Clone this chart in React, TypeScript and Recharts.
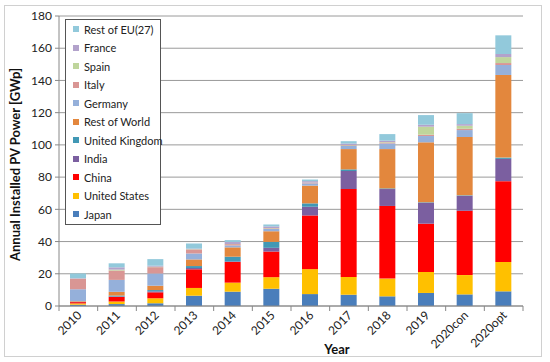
import React from 'react';
import { BarChart, Bar, XAxis, YAxis, CartesianGrid, Legend } from 'recharts';

const YEARS = ['2010', '2011', '2012', '2013', '2014', '2015', '2016', '2017', '2018', '2019', '2020con', '2020opt'];

// GWp per year (bottom to top)
const japan = [0.8, 1.2, 1.7, 6.4, 8.9, 10.7, 7.4, 7.0, 6.0, 8.1, 7.2, 9.1];
const unitedStates = [0.8, 1.6, 3.1, 4.8, 5.6, 7.2, 15.5, 11.0, 11.0, 13.0, 12.0, 18.2];
const china = [0.8, 2.9, 3.7, 11.6, 12.8, 15.9, 33.3, 54.6, 45.1, 30.0, 39.9, 50.2];
const india = [0.1, 0.2, 0.6, 0.8, 0.4, 2.3, 5.4, 11.2, 10.5, 13.0, 9.3, 13.8];
const unitedKingdom = [0.1, 0.6, 0.8, 1.2, 2.9, 3.7, 2.1, 1.0, 0.4, 0.3, 0.3, 0.8];
const restOfWorld = [0.4, 2.3, 2.7, 4.1, 5.8, 6.6, 11.0, 12.6, 24.4, 37.2, 36.2, 51.3];
const germany = [7.4, 7.4, 7.6, 3.7, 1.2, 1.4, 1.4, 1.9, 3.5, 3.9, 4.3, 6.2];
const italy = [6.6, 5.8, 3.9, 2.5, 0.8, 0.4, 0.4, 0.4, 0.6, 0.8, 0.8, 1.2];
const spain = [0.0, 0.6, 0.3, 0.2, 0.1, 0.2, 0.1, 0.2, 0.3, 5.0, 1.9, 3.7];
const france = [0.2, 1.4, 0.6, 0.3, 1.2, 1.0, 0.9, 0.9, 0.8, 1.2, 1.0, 1.9];
const restOfEU = [3.0, 2.5, 4.1, 3.2, 1.2, 1.2, 1.0, 1.5, 4.1, 6.0, 6.8, 11.6];

const SERIES = [
  { key: 'japan', name: 'Japan', values: japan, color: '#4A7EBB' },
  { key: 'us', name: 'United States', values: unitedStates, color: '#FFC000' },
  { key: 'china', name: 'China', values: china, color: '#FF0000' },
  { key: 'india', name: 'India', values: india, color: '#7B5FA0' },
  { key: 'uk', name: 'United Kingdom', values: unitedKingdom, color: '#4198B5' },
  { key: 'row', name: 'Rest of World', values: restOfWorld, color: '#E3873D' },
  { key: 'germany', name: 'Germany', values: germany, color: '#95B0DA' },
  { key: 'italy', name: 'Italy', values: italy, color: '#D99694' },
  { key: 'spain', name: 'Spain', values: spain, color: '#BFD59C' },
  { key: 'france', name: 'France', values: france, color: '#B2A2CB' },
  { key: 'roeu', name: 'Rest of EU(27)', values: restOfEU, color: '#92C9DB' },
];

const data = YEARS.map((year, i) => {
  const row: Record<string, string | number> = { year };
  SERIES.forEach((s) => {
    row[s.key] = s.values[i];
  });
  return row;
});

const FONT = 'Lato, "Liberation Sans", sans-serif';
const MARGIN = { top: 16, right: 27, bottom: 16, left: 12 };
const Y_WIDTH = 47;
const STEP = (550 - MARGIN.left - Y_WIDTH - MARGIN.right) / YEARS.length;

const YearTick = (props: any) => {
  const { x, y, payload, index } = props;
  return (
    <g>
      <line x1={x - STEP / 2} y1={y - 8} x2={x - STEP / 2} y2={y - 3} stroke="#888" />
      {index === YEARS.length - 1 && (
        <line x1={x + STEP / 2} y1={y - 8} x2={x + STEP / 2} y2={y - 3} stroke="#888" />
      )}
      <text
        x={x + 4}
        y={y + 2}
        textAnchor="end"
        transform={`rotate(-45, ${x + 4}, ${y + 2})`}
        fontSize={12}
        fontFamily={FONT}
        fill="#222"
      >
        {payload.value}
      </text>
    </g>
  );
};

const LegendBox = () => (
  <div
    style={{
      border: '1px solid #555',
      background: '#fff',
      padding: '0 0 0 7px',
      fontFamily: FONT,
      fontSize: 11,
      color: '#222',
      width: 87,
      whiteSpace: 'nowrap',
      textAlign: 'left',
    }}
  >
    {[...SERIES].reverse().map((s) => (
      <div key={s.key} style={{ display: 'flex', alignItems: 'center', height: 18.5 }}>
        <span
          style={{ width: 6, height: 6, flexShrink: 0, background: s.color, marginRight: 5, display: 'inline-block' }}
        />
        <span>{s.name}</span>
      </div>
    ))}
  </div>
);

export default function App() {
  return (
    <div style={{ position: 'absolute', left: 0, top: 0, width: 550, height: 362, background: '#fff' }}>
      <div
        style={{
          position: 'absolute',
          left: 4,
          top: 5,
          width: 538,
          height: 352,
          border: '1px solid #d0d0d0',
          boxSizing: 'border-box',
        }}
      />
      <BarChart width={550} height={362} data={data} margin={MARGIN}>
        <CartesianGrid vertical={false} stroke="#9a9a9a" />
        <XAxis
          dataKey="year"
          height={40}
          interval={0}
          stroke="#888"
          tickLine={false}
          tick={<YearTick />}
          label={{
            value: 'Year',
            position: 'insideBottom',
            offset: -8,
            dx: 46,
            style: { fontFamily: FONT, fontWeight: 700, fontSize: 13, fill: '#111' },
          }}
        />
        <YAxis
          width={Y_WIDTH}
          domain={[0, 180]}
          ticks={[0, 20, 40, 60, 80, 100, 120, 140, 160, 180]}
          stroke="#888"
          tickSize={4}
          tickMargin={3}
          tick={{ fontSize: 12, fontFamily: FONT, fill: '#222' }}
          label={{
            value: 'Annual Installed PV Power [GWp]',
            angle: -90,
            position: 'insideLeft',
            offset: 3,
            dy: 100,
            style: { fontFamily: FONT, fontWeight: 700, fontSize: 13, fill: '#111' },
          }}
        />
        <Legend
          layout="vertical"
          align="center"
          verticalAlign="middle"
          content={<LegendBox />}
          wrapperStyle={{ left: 65, top: 19, width: 96 }}
        />
        {SERIES.map((s) => (
          <Bar
            key={s.key}
            dataKey={s.key}
            name={s.name}
            stackId="pv"
            fill={s.color}
            barSize={16}
            isAnimationActive={false}
          />
        ))}
      </BarChart>
    </div>
  );
}
